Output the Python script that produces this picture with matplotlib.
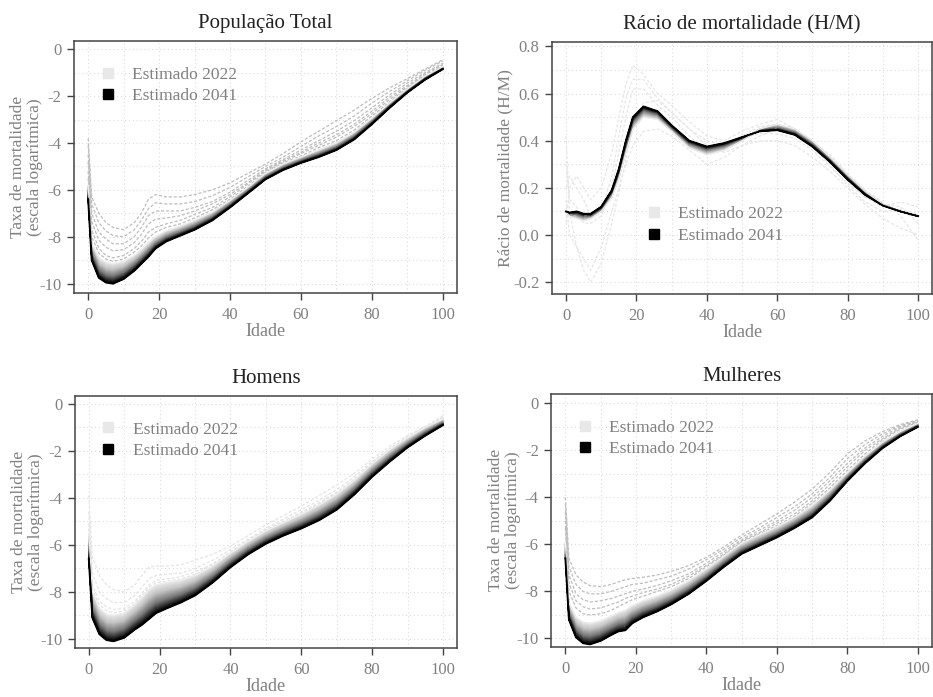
import numpy as np
import matplotlib
matplotlib.use('Agg')
import matplotlib.pyplot as plt
from matplotlib.colors import LinearSegmentedColormap
from matplotlib.lines import Line2D
from matplotlib.ticker import MultipleLocator, FormatStrFormatter

plt.rcParams['font.family'] = ['Liberation Serif', 'DejaVu Serif']
plt.rcParams['axes.unicode_minus'] = False

ages = [0, 1, 3, 5, 7, 10, 13, 15, 17, 19, 22, 26, 30, 35, 40, 45, 50, 55, 60, 65, 70, 75, 80, 85, 90, 95, 100]

# Populacao total (log mortality)
tot_2041 = [-6.4, -9.0, -9.75, -9.95, -10.0, -9.8, -9.45, -9.15, -8.85, -8.5, -8.2, -7.95, -7.7, -7.3, -6.75,
            -6.15, -5.55, -5.15, -4.85, -4.6, -4.3, -3.85, -3.2, -2.5, -1.85, -1.3, -0.85]
tot_2022 = [-5.8, -8.3, -8.9, -9.1, -9.15, -9.05, -8.8, -8.55, -8.25, -8.0, -7.75, -7.55, -7.3, -6.95, -6.45,
            -5.9, -5.3, -4.9, -4.6, -4.3, -4.0, -3.55, -2.95, -2.3, -1.7, -1.15, -0.75]
tot_obs = [
    [-3.8, -6.3, -7.0, -7.4, -7.6, -7.7, -7.4, -7.0, -6.4, -6.2, -6.3, -6.3, -6.2, -6.0, -5.7,
     -5.3, -4.9, -4.45, -3.95, -3.5, -3.05, -2.6, -2.1, -1.65, -1.25, -0.85, -0.45],
    [-4.1, -6.6, -7.4, -7.75, -7.95, -8.0, -7.7, -7.3, -6.8, -6.55, -6.6, -6.6, -6.5, -6.25, -5.9,
     -5.45, -5.0, -4.6, -4.15, -3.7, -3.3, -2.85, -2.3, -1.8, -1.35, -0.9, -0.5],
    [-4.5, -7.0, -7.8, -8.1, -8.3, -8.3, -8.0, -7.6, -7.1, -6.9, -6.9, -6.9, -6.75, -6.5, -6.1,
     -5.6, -5.1, -4.7, -4.3, -3.9, -3.5, -3.05, -2.5, -1.95, -1.45, -1.0, -0.6],
    [-4.8, -7.35, -8.15, -8.45, -8.6, -8.55, -8.25, -7.9, -7.45, -7.25, -7.2, -7.1, -6.9, -6.6, -6.2,
     -5.7, -5.15, -4.75, -4.4, -4.0, -3.65, -3.2, -2.65, -2.05, -1.55, -1.05, -0.65],
    [-5.2, -7.7, -8.5, -8.8, -8.9, -8.8, -8.5, -8.2, -7.8, -7.6, -7.45, -7.3, -7.05, -6.75, -6.3,
     -5.75, -5.2, -4.8, -4.45, -4.1, -3.75, -3.3, -2.75, -2.15, -1.6, -1.1, -0.7],
    [-5.5, -8.0, -8.7, -8.95, -9.05, -8.95, -8.65, -8.4, -8.05, -7.8, -7.6, -7.45, -7.2, -6.85, -6.4,
     -5.85, -5.25, -4.85, -4.55, -4.2, -3.9, -3.45, -2.85, -2.25, -1.65, -1.15, -0.75],
]

# Racio de mortalidade (H/M)
rat_2041 = [0.10, 0.095, 0.10, 0.09, 0.09, 0.12, 0.19, 0.28, 0.40, 0.50, 0.545, 0.525, 0.465, 0.40, 0.375,
            0.39, 0.415, 0.44, 0.445, 0.425, 0.375, 0.31, 0.235, 0.17, 0.125, 0.10, 0.08]
rat_2022 = [0.10, 0.08, 0.07, 0.06, 0.07, 0.10, 0.16, 0.24, 0.35, 0.45, 0.50, 0.49, 0.44, 0.37, 0.34,
            0.36, 0.40, 0.45, 0.47, 0.45, 0.40, 0.33, 0.255, 0.185, 0.13, 0.10, 0.08]
rat_obs = [
    [0.05, 0.20, 0.25, 0.20, 0.15, 0.20, 0.35, 0.50, 0.64, 0.72, 0.68, 0.60, 0.55, 0.48, 0.42,
     0.40, 0.44, 0.47, 0.49, 0.45, 0.39, 0.31, 0.23, 0.16, 0.12, 0.14, 0.12],
    [0.15, 0.0, -0.05, -0.10, -0.15, -0.05, 0.10, 0.20, 0.30, 0.38, 0.44, 0.45, 0.42, 0.36, 0.30,
     0.33, 0.38, 0.40, 0.40, 0.38, 0.33, 0.27, 0.20, 0.13, 0.07, 0.03, 0.0],
    [0.30, 0.15, 0.12, 0.05, 0.05, 0.08, 0.20, 0.35, 0.50, 0.62, 0.62, 0.55, 0.50, 0.42, 0.36,
     0.37, 0.41, 0.43, 0.43, 0.41, 0.36, 0.29, 0.22, 0.16, 0.13, 0.12, 0.05],
    [0.42, 0.10, -0.05, -0.15, -0.20, -0.12, 0.05, 0.18, 0.32, 0.46, 0.56, 0.57, 0.52, 0.45, 0.38,
     0.35, 0.38, 0.42, 0.45, 0.44, 0.40, 0.34, 0.26, 0.19, 0.14, 0.08, -0.02],
    [0.20, 0.25, 0.20, 0.15, 0.08, 0.10, 0.25, 0.42, 0.58, 0.66, 0.66, 0.58, 0.52, 0.45, 0.40,
     0.38, 0.42, 0.46, 0.47, 0.43, 0.37, 0.30, 0.21, 0.14, 0.10, 0.11, 0.09],
]

# Homens
men_2041 = [-6.6, -9.1, -9.8, -10.05, -10.1, -9.95, -9.6, -9.4, -9.15, -8.9, -8.7, -8.45, -8.15, -7.6, -6.95,
            -6.4, -5.95, -5.6, -5.3, -4.95, -4.5, -3.85, -3.1, -2.45, -1.85, -1.35, -0.9]
men_2022 = [-5.5, -8.0, -8.7, -8.95, -9.0, -8.9, -8.55, -8.25, -7.9, -7.7, -7.6, -7.5, -7.3, -6.9, -6.35,
            -5.85, -5.4, -5.05, -4.7, -4.3, -3.85, -3.25, -2.55, -1.95, -1.45, -1.0, -0.65]
men_obs = [
    [-3.9, -6.5, -7.3, -7.7, -7.9, -8.0, -7.7, -7.3, -6.95, -6.9, -6.9, -6.85, -6.65, -6.4, -6.05,
     -5.6, -5.15, -4.75, -4.35, -3.9, -3.45, -2.95, -2.35, -1.8, -1.35, -0.95, -0.5],
    [-4.6, -7.2, -8.0, -8.3, -8.45, -8.45, -8.15, -7.8, -7.45, -7.3, -7.25, -7.2, -7.0, -6.65, -6.2,
     -5.75, -5.3, -4.9, -4.5, -4.1, -3.65, -3.1, -2.45, -1.9, -1.4, -1.0, -0.55],
    [-5.1, -7.7, -8.4, -8.65, -8.75, -8.7, -8.4, -8.05, -7.7, -7.5, -7.45, -7.35, -7.15, -6.8, -6.3,
     -5.8, -5.35, -5.0, -4.6, -4.2, -3.75, -3.2, -2.5, -1.95, -1.45, -1.0, -0.6],
    [-5.3, -7.9, -8.55, -8.8, -8.9, -8.8, -8.5, -8.15, -7.8, -7.6, -7.55, -7.45, -7.25, -6.85, -6.35,
     -5.85, -5.4, -5.05, -4.65, -4.25, -3.8, -3.25, -2.55, -1.95, -1.45, -1.0, -0.62],
]

# Mulheres
wom_2041 = [-6.6, -9.2, -9.95, -10.2, -10.25, -10.1, -9.85, -9.7, -9.65, -9.35, -9.1, -8.85, -8.55, -8.1, -7.55,
            -6.95, -6.4, -6.05, -5.7, -5.3, -4.85, -4.15, -3.3, -2.55, -1.9, -1.4, -1.0]
wom_2022 = [-5.9, -8.5, -9.1, -9.3, -9.35, -9.25, -9.05, -8.9, -8.8, -8.6, -8.4, -8.2, -7.95, -7.55, -7.05,
            -6.5, -5.95, -5.6, -5.25, -4.85, -4.35, -3.7, -2.95, -2.25, -1.65, -1.2, -0.85]
wom_obs = [
    [-4.0, -6.6, -7.3, -7.6, -7.75, -7.8, -7.7, -7.6, -7.5, -7.45, -7.4, -7.3, -7.15, -6.9, -6.55,
     -6.1, -5.6, -5.15, -4.7, -4.2, -3.65, -2.95, -2.15, -1.6, -1.2, -0.9, -0.7],
    [-4.3, -6.95, -7.7, -8.0, -8.1, -8.1, -8.0, -7.9, -7.8, -7.7, -7.65, -7.5, -7.35, -7.05, -6.65,
     -6.2, -5.7, -5.3, -4.85, -4.4, -3.85, -3.15, -2.35, -1.75, -1.3, -0.95, -0.72],
    [-4.6, -7.3, -8.1, -8.35, -8.45, -8.4, -8.3, -8.2, -8.1, -8.0, -7.9, -7.75, -7.55, -7.25, -6.8,
     -6.3, -5.8, -5.4, -5.0, -4.55, -4.0, -3.3, -2.55, -1.9, -1.4, -1.0, -0.75],
    [-5.0, -7.65, -8.4, -8.65, -8.75, -8.7, -8.55, -8.45, -8.3, -8.2, -8.05, -7.9, -7.7, -7.35, -6.9,
     -6.4, -5.85, -5.5, -5.1, -4.7, -4.15, -3.45, -2.7, -2.0, -1.5, -1.05, -0.78],
    [-5.3, -8.0, -8.7, -8.95, -9.0, -8.95, -8.8, -8.65, -8.5, -8.35, -8.2, -8.0, -7.8, -7.45, -6.95,
     -6.45, -5.9, -5.55, -5.2, -4.8, -4.25, -3.6, -2.85, -2.15, -1.55, -1.1, -0.8],
]

ylab_taxa = 'Taxa de mortalidade\n(escala logarítmica)'
grey_txt = '#808080'
cmap = LinearSegmentedColormap.from_list('fan', [(0, '#ececec'), (0.3, '#c6c6c6'), (0.65, '#787878'),
                                                 (0.9, '#222222'), (1, '#000000')])

fig = plt.figure(figsize=(9.33, 6.97), dpi=100)
positions = [[0.0793, 0.5796, 0.4105, 0.3616], [0.5916, 0.5782, 0.4075, 0.362],
             [0.0800, 0.0699, 0.4100, 0.3624], [0.5909, 0.0722, 0.4080, 0.3626]]
titles = ['População Total', 'Rácio de mortalidade (H/M)', 'Homens', 'Mulheres']


def draw_panel(ax, obs, first, last, obs_col):
    x = np.array(ages, dtype=float)
    for o in obs:
        ax.plot(x, o, color=obs_col, lw=0.9, ls=(0, (2.5, 1.5)), zorder=2)
    top = np.array(first)
    bot = np.array(last)
    s = np.linspace(0, 1, 40)
    X = np.tile(x, (len(s), 1))
    Y = top[None, :] + s[:, None] * (bot - top)[None, :]
    C = np.tile(s[:, None], (1, len(x)))
    ax.pcolormesh(X, Y, C, cmap=cmap, shading='gouraud', zorder=3, rasterized=True)
    ax.plot(x, first, color='#eeeeee', lw=0.8, zorder=4)
    ax.plot(x, last, color='black', lw=1.4, zorder=5)


def style(ax, title, ylabel, ylim, major_y, minor_y, fmt, leg_anchor, ypad):
    ax.set_xlim(-4, 104)
    ax.set_ylim(*ylim)
    ax.set_xticks([0, 20, 40, 60, 80, 100])
    ax.xaxis.set_minor_locator(MultipleLocator(10))
    ax.yaxis.set_major_locator(MultipleLocator(major_y))
    ax.yaxis.set_minor_locator(MultipleLocator(minor_y))
    ax.yaxis.set_major_formatter(FormatStrFormatter(fmt))
    ax.grid(which='both', color='#dcdcdc', ls=(0, (1, 2.5)), lw=0.8, zorder=0)
    ax.tick_params(which='major', direction='out', length=5, width=1, color='#444444',
                   labelcolor=grey_txt, labelsize=12, pad=4)
    ax.tick_params(axis='x', which='major', pad=5)
    ax.tick_params(which='minor', length=0)
    for sp in ax.spines.values():
        sp.set_color('#444444')
        sp.set_linewidth(1.1)
    ax.set_title(title, fontsize=15, color='#222222', pad=9)
    ax.set_xlabel('Idade', fontsize=13, color=grey_txt, labelpad=0)
    ax.set_ylabel(ylabel, fontsize=12.5, color=grey_txt, labelpad=ypad, linespacing=1.1)
    handles = [Line2D([], [], marker='s', ls='none', color='#e8e8e8', markersize=6.5),
               Line2D([], [], marker='s', ls='none', color='black', markersize=6.5)]
    leg = ax.legend(handles, ['Estimado 2022', 'Estimado 2041'], loc='upper left',
                    bbox_to_anchor=leg_anchor, frameon=False, fontsize=12.5,
                    handletextpad=0.8, labelspacing=0.3, handlelength=1.2)
    for t in leg.get_texts():
        t.set_color(grey_txt)


ax1 = fig.add_axes(positions[0])
draw_panel(ax1, tot_obs, tot_2022, tot_2041, '#bdbdbd')
style(ax1, titles[0], ylab_taxa, (-10.4, 0.35), 2, 1, '%d', (0.02, 0.96), -3)

ax2 = fig.add_axes(positions[1])
draw_panel(ax2, rat_obs, rat_2022, rat_2041, '#e6e6e6')
style(ax2, titles[1], 'Rácio de mortalidade (H/M)', (-0.25, 0.82), 0.2, 0.1, '%.1f', (0.2, 0.41), 0)

ax3 = fig.add_axes(positions[2])
draw_panel(ax3, men_obs, men_2022, men_2041, '#e4e4e4')
style(ax3, titles[2], ylab_taxa, (-10.4, 0.35), 2, 1, '%d', (0.02, 0.96), -3)

ax4 = fig.add_axes(positions[3])
draw_panel(ax4, wom_obs, wom_2022, wom_2041, '#bdbdbd')
style(ax4, titles[3], ylab_taxa, (-10.35, 0.4), 2, 1, '%d', (0.02, 0.96), -3)

fig.savefig('out.png', dpi=100)
